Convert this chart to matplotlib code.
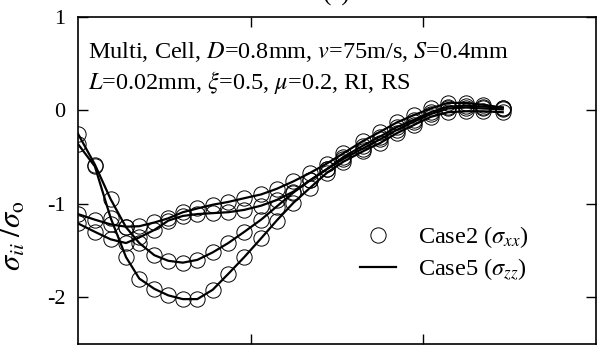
import numpy as np
import matplotlib
matplotlib.use("Agg")
import matplotlib.pyplot as plt

plt.rcParams['font.family'] = ['Liberation Serif', 'DejaVu Serif']
plt.rcParams['mathtext.fontset'] = 'stix'

# sample positions (shared by all four curves)
x = [0.0, 0.098, 0.189, 0.278, 0.355, 0.442, 0.523, 0.607, 0.691, 0.78,
     0.87, 0.963, 1.06, 1.15, 1.247, 1.343, 1.44, 1.536, 1.648, 1.749,
     1.845, 1.946, 2.042, 2.142, 2.247, 2.345, 2.459]

# four stress histories, sigma_ii / sigma_o
curve_a = [-0.36, -0.60, -1.15, -1.57, -1.80, -1.91, -1.98, -2.02, -2.02, -1.92,
           -1.75, -1.57, -1.37, -1.18, -0.99, -0.83, -0.67, -0.55, -0.44, -0.35,
           -0.245, -0.155, -0.07, -0.02, -0.01, -0.01, -0.02]
curve_b = [-0.25, -0.58, -0.95, -1.25, -1.42, -1.55, -1.61, -1.63, -1.60, -1.52,
           -1.42, -1.30, -1.17, -1.03, -0.88, -0.75, -0.63, -0.52, -0.41, -0.31,
           -0.21, -0.12, -0.04, 0.02, 0.03, 0.02, 0.01]
curve_c = [-1.11, -1.17, -1.22, -1.245, -1.24, -1.20, -1.155, -1.09, -1.05, -1.01,
           -0.98, -0.94, -0.90, -0.84, -0.76, -0.67, -0.57, -0.46, -0.33, -0.23,
           -0.13, -0.05, 0.02, 0.08, 0.08, 0.06, 0.03]
curve_d = [-1.21, -1.30, -1.38, -1.42, -1.36, -1.28, -1.18, -1.13, -1.11, -1.10,
           -1.09, -1.065, -1.02, -0.96, -0.87, -0.75, -0.63, -0.50, -0.38, -0.28,
           -0.18, -0.10, -0.02, 0.04, 0.05, 0.04, 0.03]
curves = [curve_a, curve_b, curve_c, curve_d]

yticks = [1, 0, -1, -2]
ytick_labels = ['1', '0', '-1', '-2']

fig = plt.figure(figsize=(6.09, 3.45), dpi=100)
ax = fig.add_axes([0.128, 0.003, 0.851, 0.948])

for i, c in enumerate(curves):
    ax.plot(x, c, 'o', ms=11, mfc='none', mec='black', mew=0.7,
            label=r'Case2 ($\sigma_{xx}$)' if i == 0 else None)
for i, c in enumerate(curves):
    ax.plot(x, c, '-', color='black', lw=1.6,
            label=r'Case5 ($\sigma_{zz}$)' if i == 0 else None)

ax.set_xlim(0, 3)
ax.set_ylim(-2.5, 1)
ax.set_xticks([1, 2])
ax.set_xticklabels([])
ax.set_yticks(yticks)
ax.set_yticklabels(ytick_labels)
ax.tick_params(direction='in', top=True, right=True, length=7, width=1,
               labelsize=16, pad=9)
for s in ax.spines.values():
    s.set_linewidth(1.2)

ax.set_ylabel(r'$\sigma_{ii}\;/\sigma_{\rm o}$', fontsize=22)
ax.yaxis.set_label_coords(-0.097, 0.33)

ax.text(0.02, 0.893, r'Multi, Cell, $D$=0.8mm, $v$=75m/s, $S$=0.4mm',
        transform=ax.transAxes, fontsize=17.5, va='center')
ax.text(0.02, 0.80, r'$L$=0.02mm, $\xi$=0.5, $\mu$=0.2, RI, RS',
        transform=ax.transAxes, fontsize=17.5, va='center')

ax.legend(loc='upper left', bbox_to_anchor=(0.544, 0.366), frameon=False,
          fontsize=17.5, handlelength=1.5, handletextpad=0.9, labelspacing=0.25,
          borderpad=0, borderaxespad=0)

fig.text(0.553, 1 - 1 / 345, '(a)', ha='center', va='baseline', fontsize=18)

fig.savefig('out.png', dpi=100)
